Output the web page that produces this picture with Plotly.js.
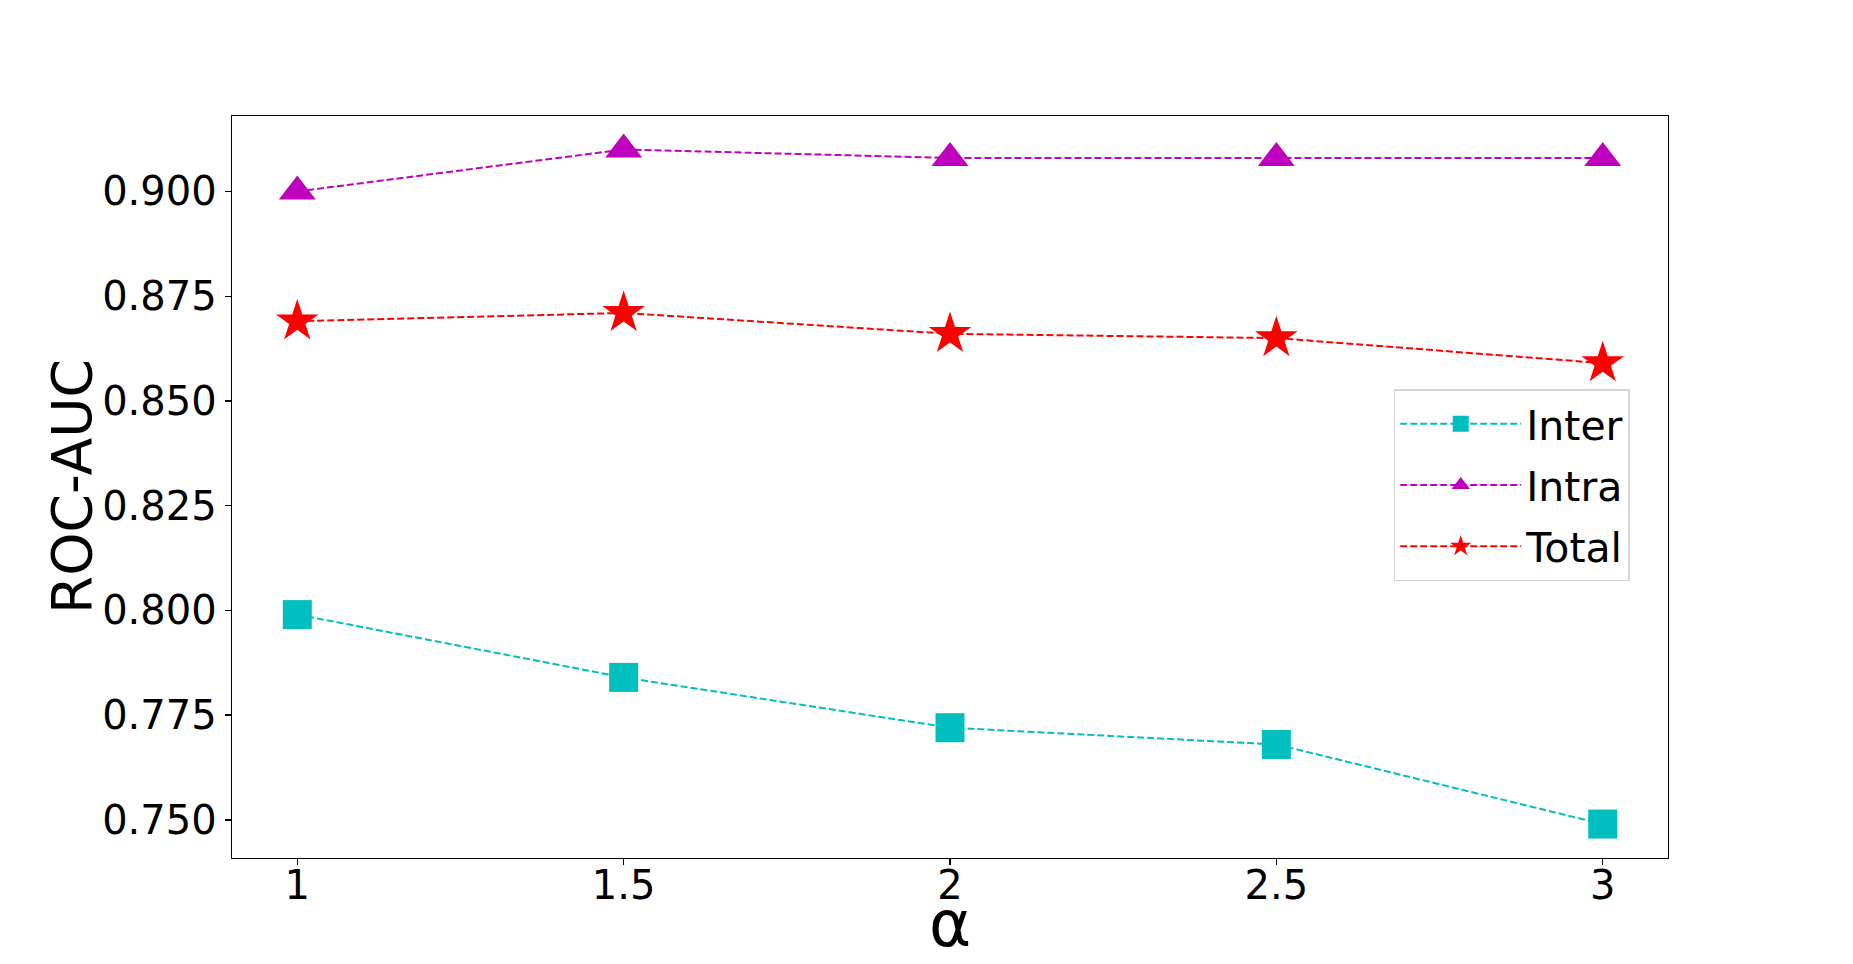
<!DOCTYPE html>
<html>
<head>
<meta charset="utf-8">
<script src="https://cdn.plot.ly/plotly-3.0.1.min.js"></script>
<style>html,body{margin:0;padding:0;background:#fff;}#chart{width:1853px;height:964px;}</style>
</head>
<body>
<div id="chart"></div>
<script>
const alphaValues = [1, 1.5, 2, 2.5, 3];
const xTickLabels = ['1', '1.5', '2', '2.5', '3'];
const interAUC = [0.799, 0.784, 0.772, 0.768, 0.749];
const intraAUC = [0.900, 0.910, 0.908, 0.908, 0.908];
const totalAUC = [0.869, 0.871, 0.866, 0.865, 0.859];
const yTickVals = [0.750, 0.775, 0.800, 0.825, 0.850, 0.875, 0.900];

const FONT = 'DejaVu Sans, sans-serif';
const dash = '7px,3px';

const traces = [
  {x: alphaValues, y: interAUC, name: 'Inter', legendgroup: 'a', mode: 'lines+markers', type: 'scatter',
   line: {color: '#00BFBF', width: 2, dash: dash},
   marker: {symbol: 'square', size: 29, color: '#00BFBF'}},
  {x: alphaValues, y: intraAUC, name: 'Intra', legendgroup: 'b', mode: 'lines+markers', type: 'scatter',
   line: {color: '#BF00BF', width: 2, dash: dash},
   marker: {symbol: 'triangle-up', size: 32, color: '#BF00BF'}},
  {x: alphaValues, y: totalAUC, name: 'Total', legendgroup: 'c', mode: 'lines+markers', type: 'scatter',
   line: {color: '#FF0000', width: 2, dash: dash},
   marker: {symbol: 'star', size: 32, color: '#FF0000'}}
];

const layout = {
  width: 1853, height: 964,
  paper_bgcolor: '#ffffff', plot_bgcolor: '#ffffff',
  font: {family: FONT, color: '#000', size: 40},
  margin: {l: 232, r: 185, t: 116, b: 106, pad: 0},
  showlegend: true,
  xaxis: {
    range: [0.9, 3.1], tickmode: 'array', tickvals: alphaValues, ticktext: xTickLabels,
    showgrid: false, zeroline: false, showline: true, mirror: true, linecolor: '#000', linewidth: 1.3,
    ticks: 'outside', ticklen: 6, tickwidth: 1.3, tickcolor: '#000', ticklabelstandoff: -14,
    tickfont: {family: FONT, size: 40, color: '#000'}
  },
  yaxis: {
    range: [0.7409, 0.9180], tickmode: 'array', tickvals: yTickVals,
    ticktext: yTickVals.map(v => v.toFixed(3)),
    showgrid: false, zeroline: false, showline: true, mirror: true, linecolor: '#000', linewidth: 1.3,
    ticks: 'outside', ticklen: 6, tickwidth: 1.3, tickcolor: '#000',
    tickfont: {family: FONT, size: 40, color: '#000'}
  },
  annotations: [
    {text: 'ROC-AUC', xref: 'paper', yref: 'paper', x: -0.1114, y: 0.5,
     xanchor: 'center', yanchor: 'middle', textangle: -90, showarrow: false,
     font: {family: FONT, size: 55, color: '#000'}},
    {text: 'α', xref: 'paper', yref: 'paper', x: 0.5, y: -0.089,
     xanchor: 'center', yanchor: 'middle', showarrow: false,
     font: {family: FONT, size: 64, color: '#000'}}
  ],
  legend: {
    x: 0.809, y: 0.632, xanchor: 'left', yanchor: 'top',
    bgcolor: '#ffffff', bordercolor: '#d6d6d6', borderwidth: 1.5,
    font: {family: FONT, size: 41, color: '#000'},
    itemwidth: 121, tracegroupgap: 5
  }
};

Plotly.newPlot('chart', traces, layout, {displayModeBar: false, staticPlot: true});
</script>
</body>
</html>
